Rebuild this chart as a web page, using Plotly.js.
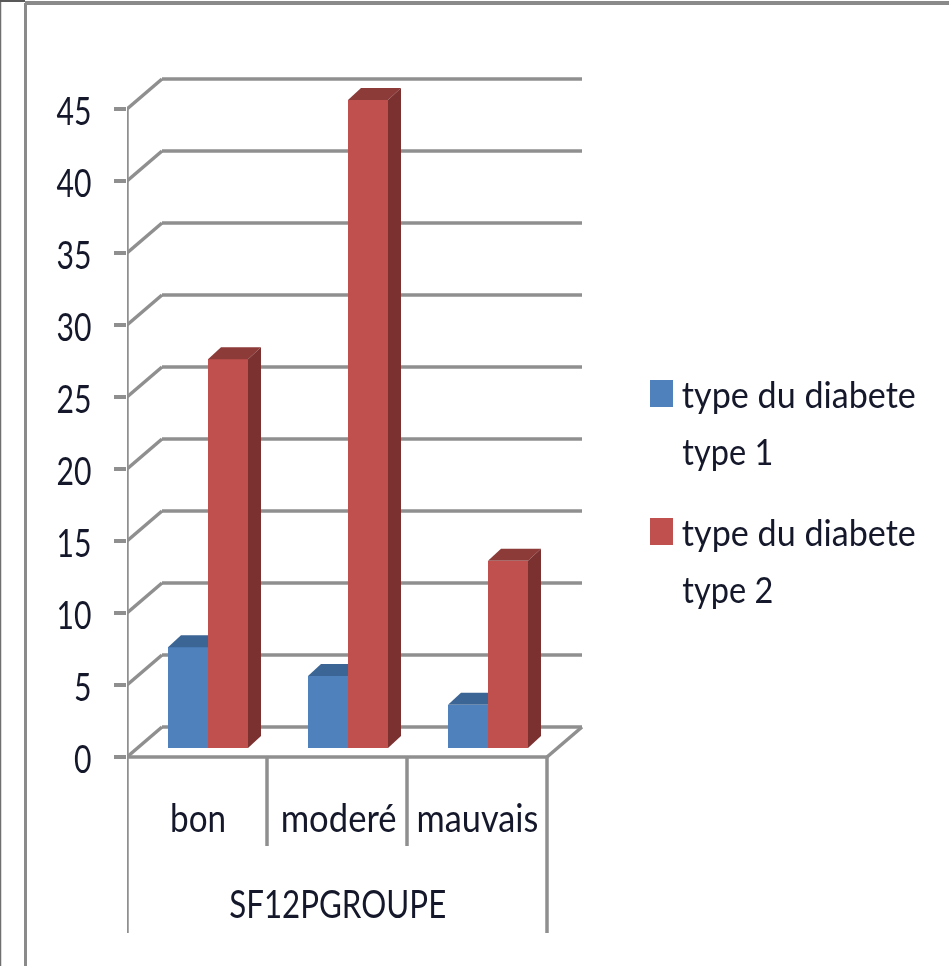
<!DOCTYPE html>
<html><head><meta charset="utf-8">
<script src="https://cdn.plot.ly/plotly-3.0.1.min.js"></script>
<style>html,body{margin:0;padding:0;background:#fff;overflow:hidden}#c{width:949px;height:966px;filter:blur(0.55px)}</style>
</head><body><div id="c"></div>
<script>
const categories = ["bon", "moderé", "mauvais"];
const type1 = [7, 5, 3];
const type2 = [27, 45, 13];
const yTicks = [0, 5, 10, 15, 20, 25, 30, 35, 40, 45];
const seriesNames = ["type du diabete", "type du diabete"];
const seriesSub = ["type 1", "type 2"];
const axisGroup = "SF12PGROUPE";

const W = 949, H = 966;
const pl = 127, pr = 600, pt = 60, pb = 940;
const pxPerCat = 140, pxPerUnit = 14.4, zeroPx = 757;
const font = "Lato, 'Open Sans', sans-serif";
const txt = "#14182a", gridC = "#8f8f8f";
const BLUE = "#4f81bd", RED = "#c0504d", BLUE_TOP = "#3b6594", RED_TOP = "#8c3b39", RED_SIDE = "#7b3130";

const dxCat = px => px / pxPerCat, dyU = px => px / pxPerUnit;
const xr = [-0.5, -0.5 + (pr - pl) / pxPerCat];
const yr = [-(pb - zeroPx) / pxPerUnit, (zeroPx - pt) / pxPerUnit];
const ypx = v => (zeroPx - v) / pxPerUnit;
const px = v => (v - pl) / (pr - pl), py = v => (pb - v) / (pb - pt);

const barW = dxCat(40), shift = dxCat(11), depthX = dxCat(13), depthY = dyU(12), base = dyU(9);
const xs = categories.map((c, i) => i);

function poly(xv, yv, color) {
  return {type: "scatter", mode: "lines", x: xv, y: yv, fill: "toself", fillcolor: color,
          line: {width: 0, color: color}, hoverinfo: "skip", showlegend: false};
}
const traces = [
  {type: "bar", x: xs.map(i => i + shift - barW / 2), y: type1, base: base, width: barW,
   marker: {color: BLUE}, showlegend: false, name: seriesNames[0] + " " + seriesSub[0]},
  {type: "bar", x: xs.map(i => i + shift + barW / 2), y: type2, base: base, width: barW,
   marker: {color: RED}, showlegend: false, name: seriesNames[1] + " " + seriesSub[1]}
];
xs.forEach(i => {
  const l = i + shift - barW, m = i + shift, r = i + shift + barW;
  const t1 = type1[i] + base, t2 = type2[i] + base;
  traces.push(poly([l, l + depthX, m, m, l], [t1, t1 + depthY, t1 + depthY, t1, t1], BLUE_TOP));
  traces.push(poly([m, m + depthX, r + depthX, r, m], [t2, t2 + depthY, t2 + depthY, t2, t2], RED_TOP));
  traces.push(poly([r, r + depthX, r + depthX, r, r], [base, base + depthY, t2 + depthY, t2, base], RED_SIDE));
});

const shapes = [];
const gl = {color: gridC, width: 3.5};
const wallDx = dxCat(35), wallDy = dyU(30), wallEnd = 2.5 + dxCat(35);
yTicks.forEach(v => {
  shapes.push({type: "line", layer: "below", xref: "x", yref: "y", x0: -0.5, y0: v, x1: -0.5 + wallDx, y1: v + wallDy, line: gl});
  shapes.push({type: "line", layer: "below", xref: "x", yref: "y", x0: -0.5 + wallDx, y0: v + wallDy, x1: wallEnd, y1: v + wallDy, line: gl});
});
shapes.push({type: "line", layer: "below", xref: "x", yref: "y", x0: -0.5, y0: 0, x1: 2.5, y1: 0, line: gl});
shapes.push({type: "line", layer: "below", xref: "x", yref: "y", x0: 2.5, y0: 0, x1: wallEnd, y1: wallDy, line: gl});
shapes.push({type: "line", layer: "below", xref: "x", yref: "y", x0: -0.5, y0: ypx(933), x1: -0.5, y1: 45, line: gl});
shapes.push({type: "line", layer: "below", xref: "x", yref: "y", x0: 2.5, y0: ypx(933), x1: 2.5, y1: 0, line: gl});
[0.5, 1.5].forEach(b => shapes.push({type: "line", layer: "below", xref: "x", yref: "y", x0: b, y0: ypx(846), x1: b, y1: 0, line: gl}));
const frame = (x0, y0, x1, y1, color, width) => shapes.push({type: "line", xref: "paper", yref: "paper",
  x0: px(x0), y0: py(y0), x1: px(x1), y1: py(y1), line: {color, width}});
frame(25, 3, W, 3, "#8a8a8a", 4);
frame(25.5, 3, 25.5, H, "#8a8a8a", 3);
frame(0.5, 2, 0.5, H, "#6f6f6f", 1.5);
frame(0, 1, 25, 1, "#222222", 1.5);
const swatch = (y0, c) => shapes.push({type: "rect", xref: "paper", yref: "paper", x0: px(650), x1: px(673), y0: py(y0), y1: py(y0 + 27), fillcolor: c, line: {width: 0}});
swatch(380, BLUE); swatch(518, RED);

const ann = [];
const label = (xref, x, yref, y, text, size) => ann.push({xref, yref, x, y, text, showarrow: false,
  xanchor: "center", yanchor: "middle", font: {family: font, size, color: txt}});
categories.forEach((c, i) => label("x", i + dxCat([1, 1, 0][i]), "y", ypx(817), c, 38));
label("x", 1, "y", ypx(903), axisGroup, 38);
seriesNames.forEach((n, i) => {
  const t = [393, 531][i];
  label("paper", px(799), "paper", py(t), n, 37);
  label("paper", px(727.5), "paper", py(t + 57), seriesSub[i], 37);
});

const fitWidth = {"bon": 56, "moderé": 116, "mauvais": 122, "SF12PGROUPE": 217,
                  "type du diabete": 234, "type 1": 91, "type 2": 91};

Plotly.newPlot("c", traces, {
  width: W, height: H, showlegend: false, barmode: "overlay", bargap: 0,
  paper_bgcolor: "#fff", plot_bgcolor: "#fff",
  margin: {l: pl, r: W - pr, t: pt, b: H - pb, pad: 0},
  xaxis: {range: xr, showgrid: false, zeroline: false, showline: false, showticklabels: false, ticks: "", fixedrange: true},
  yaxis: {range: yr, tickmode: "array", tickvals: yTicks, ticktext: yTicks.map(String), showgrid: false, zeroline: false, showline: false,
          ticks: "outside", ticklen: 12, tickwidth: 3.5, tickcolor: gridC, ticklabelstandoff: 15,
          tickfont: {family: font, size: 38, color: txt}, fixedrange: true},
  shapes, annotations: ann
}, {displayModeBar: false, staticPlot: true}).then(gd => {
  gd.querySelectorAll(".annotation-text").forEach(t => {
    const w = fitWidth[t.textContent];
    if (w) { t.setAttribute("textLength", w); t.setAttribute("lengthAdjust", "spacingAndGlyphs"); }
  });
  gd.querySelectorAll(".ytick text").forEach(t => {
    const w = t.textContent.length * 17.5;
    t.setAttribute("textLength", w); t.setAttribute("lengthAdjust", "spacingAndGlyphs");
    t.setAttribute("dy", 3);
  });
});
</script></body></html>
